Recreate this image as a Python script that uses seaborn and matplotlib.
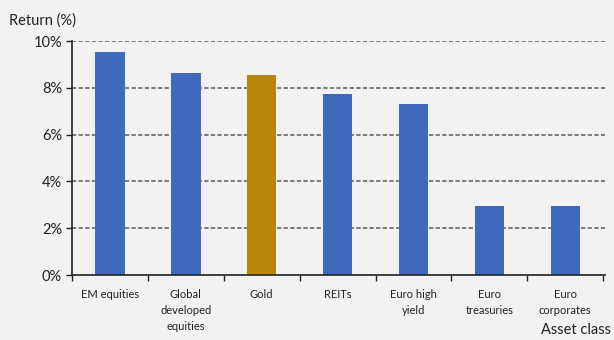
import matplotlib
matplotlib.use("Agg")
import matplotlib.pyplot as plt
import seaborn as sns
import pandas as pd
from matplotlib.ticker import FuncFormatter

categories = ["EM equities", "Global\ndeveloped\nequities", "Gold", "REITs",
              "Euro high\nyield", "Euro\ntreasuries", "Euro\ncorporates"]
returns = [9.55, 8.65, 8.55, 7.75, 7.3, 2.95, 2.95]
bar_colors = ["#3f69ba", "#3f69ba", "#b8860b", "#3f69ba", "#3f69ba", "#3f69ba", "#3f69ba"]
y_ticks = [0, 2, 4, 6, 8, 10]

sns.set_theme(style="white")
plt.rcParams['font.family'] = ['Lato', 'DejaVu Sans']
bg = "#f3f1f2"

df = pd.DataFrame({"cat": categories, "ret": returns})
fig = plt.figure(figsize=(6.14, 3.40), dpi=100, facecolor=bg)
ax = fig.add_axes([0.117, 0.191, 0.868, 0.688])
ax.set_facecolor(bg)
sns.barplot(data=df, x="cat", y="ret", hue="cat", palette=bar_colors, legend=False,
            width=0.39, ax=ax, saturation=1, linewidth=0)

ax.set_ylim(0, 10)
ax.set_xlim(-0.46, 6.52)
ax.set_yticks(y_ticks)
ax.yaxis.set_major_formatter(FuncFormatter(lambda v, p: f"{v:.0f}%"))
for y in y_ticks[1:]:
    ax.axhline(y, color="#7a7a7a", linestyle=(0, (2.2, 1.2)), linewidth=1.4, zorder=0)
ax.set_axisbelow(True)

for s in ["top", "right"]:
    ax.spines[s].set_visible(False)
for s in ["left", "bottom"]:
    ax.spines[s].set_color("#222222")
    ax.spines[s].set_linewidth(1.2)

ax.tick_params(axis="y", left=True, length=4, width=1, color="#222222", labelsize=10.5,
               labelcolor="#222222", pad=3)
ax.tick_params(axis="x", bottom=False, labelsize=8, labelcolor="#222222", pad=4)
ax.set_xticks(range(len(categories)))
ax.set_xticklabels(categories, va="top", linespacing=1.55)
ax.set_xticks([i + 0.5 for i in range(-1, len(categories))], minor=True)
ax.tick_params(axis="x", which="minor", bottom=True, length=4, width=1, color="#222222")

ax.set_xlabel("")
ax.set_ylabel("")
fig.text(0.015, 0.94, "Return (%)", fontsize=10.5, color="#222222", ha="left", va="center")
fig.text(0.995, 0.028, "Asset class", fontsize=10.5, color="#222222", ha="right", va="center")

fig.savefig("out.png", dpi=100, facecolor=bg)
